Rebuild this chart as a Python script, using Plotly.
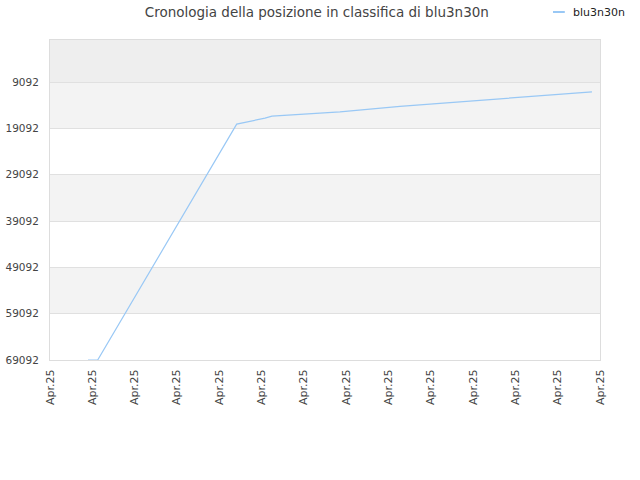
import plotly.graph_objects as go

# ranking history (x = position along the time axis, y = rank)
x_pos = [0.898, 1.127, 4.413, 4.609, 4.845, 5.082, 5.247, 5.909, 6.854, 8.272, 10.163, 12.810]
rank = [69092, 69092, 18168, 17800, 17410, 16870, 16420, 15990, 15530, 14340, 13050, 11190]

tick_vals = list(range(14))
tick_text = ["Apr.25"] * 14
y_ticks = [9092, 19092, 29092, 39092, 49092, 59092, 69092]
y_text = [str(v) for v in y_ticks]
series_name = "blu3n30n"
line_color = "#99c8f5"

fig = go.Figure()
fig.add_trace(go.Scatter(x=x_pos, y=rank, mode="lines", name=series_name,
                         line=dict(color=line_color, width=1.2)))

# alternating background bands
shapes = [dict(type="rect", xref="paper", yref="y", x0=0, x1=1, y0=0, y1=y_ticks[0],
               fillcolor="#eeeeee", line_width=0, layer="below")]
for i in range(len(y_ticks) - 1):
    if i % 2 == 0:
        shapes.append(dict(type="rect", xref="paper", yref="y", x0=0, x1=1,
                           y0=y_ticks[i], y1=y_ticks[i + 1],
                           fillcolor="#f3f3f3", line_width=0, layer="below"))

# small legend in the top right corner
shapes.append(dict(type="line", xref="paper", yref="paper", x0=0.9145, x1=0.936,
                   y0=1.0875, y1=1.0875, line=dict(color=line_color, width=2)))

fig.update_layout(
    width=640, height=480,
    margin=dict(l=50, r=40, t=40, b=120),
    paper_bgcolor="white", plot_bgcolor="white",
    font=dict(family="DejaVu Sans", size=11, color="#444"),
    title=dict(text="Cronologia della posizione in classifica di blu3n30n",
               x=0.495, xanchor="center", y=0.975, yanchor="middle",
               font=dict(size=13.5, color="#444")),
    showlegend=False,
    shapes=shapes,
    annotations=[dict(text=series_name, xref="paper", yref="paper", x=0.947, y=1.0875,
                      xanchor="left", yanchor="middle", showarrow=False,
                      font=dict(size=11, color="#222"))],
)
fig.update_xaxes(range=[0, 13], tickmode="array", tickvals=tick_vals, ticktext=tick_text,
                 tickangle=-90, showgrid=False, zeroline=False, automargin=False,
                 showline=True, linecolor="#dddddd", mirror=True, ticklabelstandoff=4,
                 tickfont=dict(size=11, color="#444"))
fig.update_yaxes(range=[69092, 0], tickmode="array", tickvals=y_ticks, ticktext=y_text,
                 showgrid=True, gridcolor="#e0e0e0", zeroline=False, automargin=False,
                 showline=True, linecolor="#dddddd", mirror=True, ticklabelstandoff=8,
                 tickfont=dict(size=10.5, color="#444"))

fig.write_html("out.html", config={"displayModeBar": False},
               post_script="document.body.style.margin='0px';")
